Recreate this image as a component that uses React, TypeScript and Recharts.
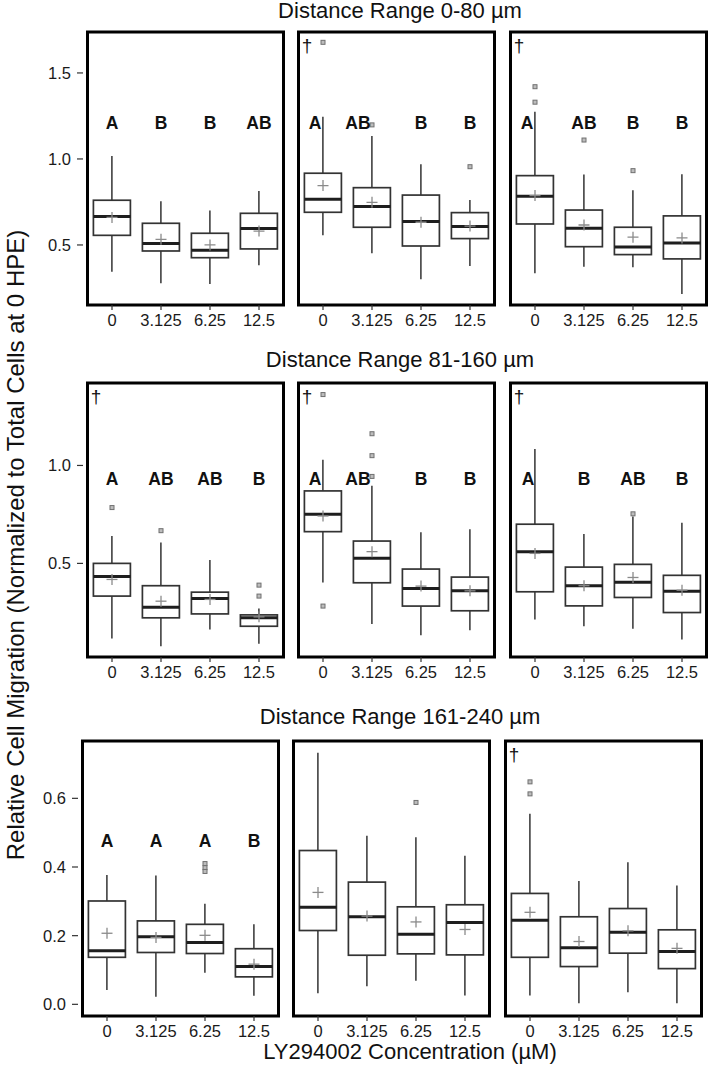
import React from 'react';
import { ComposedChart, Bar, Scatter, XAxis, YAxis, ReferenceArea } from 'recharts';

const FONT = '"Liberation Sans", Arial, Helvetica, sans-serif';

const CONC = ['0', '3.125', '6.25', '12.5'];
const TITLES = ['Distance Range 0-80 µm', 'Distance Range 81-160 µm', 'Distance Range 161-240 µm'];
const Y_TITLE = 'Relative Cell Migration (Normalized to Total Cells at 0 HPE)';
const X_TITLE = 'LY294002 Concentration (µM)';

// per concentration: [whisker low, q1, median, q3, whisker high, mean]
const r1p1 = [[0.345, 0.556, 0.665, 0.76, 1.017, 0.66], [0.277, 0.465, 0.508, 0.626, 0.754, 0.533], [0.273, 0.426, 0.469, 0.568, 0.7, 0.5], [0.382, 0.477, 0.595, 0.684, 0.814, 0.581]];
const r1p2 = [[0.556, 0.69, 0.766, 0.917, 1.246, 0.845], [0.452, 0.603, 0.723, 0.833, 1.134, 0.748], [0.3, 0.494, 0.636, 0.79, 0.969, 0.632], [0.378, 0.537, 0.607, 0.688, 0.762, 0.61]];
const r1p3 = [[0.335, 0.622, 0.783, 0.903, 1.275, 0.787], [0.374, 0.49, 0.597, 0.703, 0.909, 0.616], [0.37, 0.444, 0.488, 0.603, 0.818, 0.545], [0.215, 0.419, 0.512, 0.669, 0.911, 0.541]];
const r2p1 = [[0.116, 0.333, 0.433, 0.5, 0.64, 0.418], [0.077, 0.222, 0.276, 0.386, 0.607, 0.307], [0.162, 0.242, 0.321, 0.353, 0.517, 0.316], [0.09, 0.179, 0.222, 0.237, 0.27, 0.227]];
const r2p2 = [[0.403, 0.662, 0.751, 0.87, 1.029, 0.742], [0.19, 0.401, 0.526, 0.614, 0.896, 0.56], [0.133, 0.282, 0.372, 0.471, 0.659, 0.384], [0.159, 0.258, 0.36, 0.43, 0.674, 0.36]];
const r2p3 = [[0.213, 0.355, 0.56, 0.7, 1.084, 0.551], [0.179, 0.283, 0.386, 0.481, 0.65, 0.386], [0.166, 0.326, 0.404, 0.495, 0.739, 0.428], [0.111, 0.249, 0.358, 0.439, 0.708, 0.363]];
const r3p1 = [[0.042, 0.137, 0.156, 0.301, 0.377, 0.207], [0.022, 0.151, 0.197, 0.243, 0.375, 0.195], [0.092, 0.148, 0.18, 0.233, 0.293, 0.201], [0.025, 0.08, 0.11, 0.162, 0.233, 0.117]];
const r3p2 = [[0.032, 0.215, 0.283, 0.448, 0.733, 0.326], [0.053, 0.143, 0.255, 0.356, 0.491, 0.257], [0.069, 0.147, 0.204, 0.284, 0.487, 0.24], [0.026, 0.144, 0.238, 0.29, 0.433, 0.218]];
const r3p3 = [[0.026, 0.137, 0.245, 0.323, 0.555, 0.268], [0.003, 0.11, 0.165, 0.255, 0.359, 0.183], [0.035, 0.149, 0.21, 0.279, 0.414, 0.214], [0.003, 0.104, 0.154, 0.217, 0.346, 0.163]];

// outliers per concentration
const r1p1Out = [[], [], [], []];
const r1p2Out = [[1.678], [1.198], [], [0.955]];
const r1p3Out = [[1.42, 1.33], [1.11], [0.932], []];
const r2p1Out = [[0.785], [0.667], [], [0.389, 0.333]];
const r2p2Out = [[1.362, 0.282], [1.162, 1.05, 0.944], [], []];
const r2p3Out = [[], [], [0.753], []];
const r3p1Out = [[], [], [0.41, 0.398, 0.387], []];
const r3p2Out = [[], [], [0.588], []];
const r3p3Out = [[0.648, 0.613], [], [], []];

// significance letters
const r1p1Let = ['A', 'B', 'B', 'AB'];
const r1p2Let = ['A', 'AB', 'B', 'B'];
const r1p3Let = ['A', 'AB', 'B', 'B'];
const r2p1Let = ['A', 'AB', 'AB', 'B'];
const r2p2Let = ['A', 'AB', 'B', 'B'];
const r2p3Let = ['A', 'B', 'AB', 'B'];
const r3p1Let = ['A', 'A', 'A', 'B'];
const r3p2Let: string[] = [];
const r3p3Let: string[] = [];

const NO_SHIFT = [0, 0, 0, 0];

const ROWS = [
  {
    top: 32, h: 273, xs: [83, 294, 506], domain: [0.151, 1.738], ticks: [0.5, 1.0, 1.5], letterY: 1.21, titleY: 11,
    panels: [
      { stats: r1p1, out: r1p1Out, letters: r1p1Let, shift: NO_SHIFT, dagger: false },
      { stats: r1p2, out: r1p2Out, letters: r1p2Let, shift: [-8, -14, 0, 0], dagger: true },
      { stats: r1p3, out: r1p3Out, letters: r1p3Let, shift: [-8, 0, 0, 0], dagger: true },
    ],
  },
  {
    top: 383, h: 274, xs: [83, 294, 506], domain: [0.022, 1.421], ticks: [0.5, 1.0], letterY: 0.93, titleY: 360,
    panels: [
      { stats: r2p1, out: r2p1Out, letters: r2p1Let, shift: NO_SHIFT, dagger: true },
      { stats: r2p2, out: r2p2Out, letters: r2p2Let, shift: [-8, -14, 0, 0], dagger: true },
      { stats: r2p3, out: r2p3Out, letters: r2p3Let, shift: [-7, 0, 0, 0], dagger: true },
    ],
  },
  {
    top: 741, h: 275, xs: [78, 289, 501], domain: [-0.034, 0.767], ticks: [0, 0.2, 0.4, 0.6], letterY: 0.477, titleY: 717,
    panels: [
      { stats: r3p1, out: r3p1Out, letters: r3p1Let, shift: NO_SHIFT, dagger: false },
      { stats: r3p2, out: r3p2Out, letters: r3p2Let, shift: NO_SHIFT, dagger: false },
      { stats: r3p3, out: r3p3Out, letters: r3p3Let, shift: NO_SHIFT, dagger: true },
    ],
  },
];

const PW = 205;
const YW = 40;
const MT = 4;
const XH = 40;
const BOX_W = 37;
const TICK_FS = 16.5;

function buildRows(stats: number[][], out: number[][], letters: string[], shift: number[], letterY: number) {
  return CONC.map((c, i) => {
    const [lo, q1, med, q3, hi, mean] = stats[i];
    const row: any = { c, whisker: [lo, hi], box: [q1, q3], med, mean };
    if (letters[i]) {
      row.ly = letterY;
      row.letter = letters[i];
      row.shift = shift[i];
    }
    (out[i] || []).forEach((v, k) => {
      row['o' + k] = v;
    });
    return row;
  });
}

const ok = (p: any) => Number.isFinite(p.cx) && Number.isFinite(p.cy);

const XTick = (p: any) => (
  <text x={p.x} y={p.y} dy="0.71em" textAnchor="middle" fontFamily={FONT} fontSize={TICK_FS} fill="#1a1a1a">
    {p.payload.value}
  </text>
);

const YTick = (p: any) => (
  <text x={p.x} y={p.y} dy="0.36em" textAnchor="end" fontFamily={FONT} fontSize={TICK_FS} fill="#1a1a1a">
    {Number(p.payload.value).toFixed(1)}
  </text>
);

const WhiskerShape = (p: any) => {
  const cx = p.x + p.width / 2;
  return <line x1={cx} x2={cx} y1={p.y} y2={p.y + p.height} stroke="#333" strokeWidth={1.5} />;
};

const BoxShape = (p: any) => {
  const cx = p.x + p.width / 2;
  const top = Math.min(p.y, p.y + p.height);
  return (
    <rect x={cx - BOX_W / 2} y={top} width={BOX_W} height={Math.abs(p.height)} fill="#fff" stroke="#333" strokeWidth={1.7} />
  );
};

const MedianShape = (p: any) =>
  ok(p) ? <line x1={p.cx - BOX_W / 2} x2={p.cx + BOX_W / 2} y1={p.cy} y2={p.cy} stroke="#1e1e1e" strokeWidth={3} /> : <g />;

const MeanShape = (p: any) =>
  ok(p) ? (
    <g stroke="#8a8a8a" strokeWidth={1.3}>
      <line x1={p.cx - 5.5} x2={p.cx + 5.5} y1={p.cy} y2={p.cy} />
      <line x1={p.cx} x2={p.cx} y1={p.cy - 5.5} y2={p.cy + 5.5} />
    </g>
  ) : (
    <g />
  );

const OutlierShape = (p: any) =>
  ok(p) ? (
    <rect x={p.cx - 2} y={p.cy - 2} width={4} height={4} fill="#bdbdbd" stroke="#707070" strokeWidth={1} />
  ) : (
    <g />
  );

const LetterShape = (p: any) =>
  ok(p) ? (
    <text x={p.cx + (p.payload.shift || 0)} y={p.cy} dy="0.36em" textAnchor="middle" fontFamily={FONT} fontWeight="bold" fontSize={17.5} fill="#111">
      {p.payload.letter}
    </text>
  ) : (
    <g />
  );

function Panel({ row, panel, idx }: any) {
  const data = buildRows(panel.stats, panel.out, panel.letters, panel.shift, row.letterY);
  const showY = idx === 0;
  const x = row.xs[idx];
  return (
    <div style={{ position: 'absolute', left: x - YW, top: row.top - MT }}>
      <ComposedChart width={YW + PW + 4} height={MT + row.h + XH} data={data} margin={{ top: MT, right: 4, bottom: 0, left: 0 }}>
        <XAxis
          dataKey="c"
          height={XH}
          padding={{ left: 4.5, right: 4.5 }}
          axisLine={false}
          tickSize={5}
          tickMargin={4}
          interval={0}
          tickLine={{ stroke: '#333', strokeWidth: 1.2 }}
          tick={XTick}
        />
        <XAxis xAxisId="b" dataKey="c" hide padding={{ left: 4.5, right: 4.5 }} />
        <YAxis
          type="number"
          domain={row.domain}
          allowDataOverflow
          ticks={row.ticks}
          width={YW}
          axisLine={false}
          tickSize={6}
          tickMargin={6}
          tickLine={showY ? { stroke: '#333', strokeWidth: 1.2 } : false}
          tick={showY ? YTick : false}
        />
        <Bar dataKey="whisker" shape={WhiskerShape} isAnimationActive={false} />
        <Bar xAxisId="b" dataKey="box" shape={BoxShape} isAnimationActive={false} />
        <Scatter dataKey="med" shape={MedianShape} isAnimationActive={false} />
        <Scatter dataKey="mean" shape={MeanShape} isAnimationActive={false} />
        <Scatter dataKey="o0" shape={OutlierShape} isAnimationActive={false} />
        <Scatter dataKey="o1" shape={OutlierShape} isAnimationActive={false} />
        <Scatter dataKey="o2" shape={OutlierShape} isAnimationActive={false} />
        <Scatter dataKey="ly" shape={LetterShape} isAnimationActive={false} />
        <ReferenceArea y1={row.domain[0]} y2={row.domain[1]} fill="none" stroke="#000" strokeWidth={3} ifOverflow="visible" />
      </ComposedChart>
      {panel.dagger && (
        <span
          style={{
            position: 'absolute',
            left: YW + 13,
            top: MT + 13,
            transform: 'translate(-50%, -50%)',
            fontFamily: FONT,
            fontSize: 19,
            color: '#111',
            lineHeight: 1,
          }}
        >
          †
        </span>
      )}
    </div>
  );
}

export default function App() {
  return (
    <div style={{ position: 'absolute', left: 0, top: 0, width: 714, height: 1078, background: '#fff', fontFamily: FONT, color: '#111' }}>
      {ROWS.map((row, r) => (
        <React.Fragment key={r}>
          <div
            style={{
              position: 'absolute',
              left: 400,
              top: row.titleY,
              transform: 'translate(-50%, -50%)',
              fontSize: 22,
              whiteSpace: 'nowrap',
              lineHeight: 1,
            }}
          >
            {TITLES[r]}
          </div>
          {row.panels.map((p, i) => (
            <Panel key={i} row={row} panel={p} idx={i} />
          ))}
        </React.Fragment>
      ))}
      <div
        style={{
          position: 'absolute',
          left: 16,
          top: 545,
          transform: 'translate(-50%, -50%) rotate(-90deg)',
          fontSize: 24,
          whiteSpace: 'nowrap',
          lineHeight: 1,
        }}
      >
        {Y_TITLE}
      </div>
      <div
        style={{
          position: 'absolute',
          left: 410,
          top: 1052,
          transform: 'translate(-50%, -50%)',
          fontSize: 22,
          whiteSpace: 'nowrap',
          lineHeight: 1,
        }}
      >
        {X_TITLE}
      </div>
    </div>
  );
}
